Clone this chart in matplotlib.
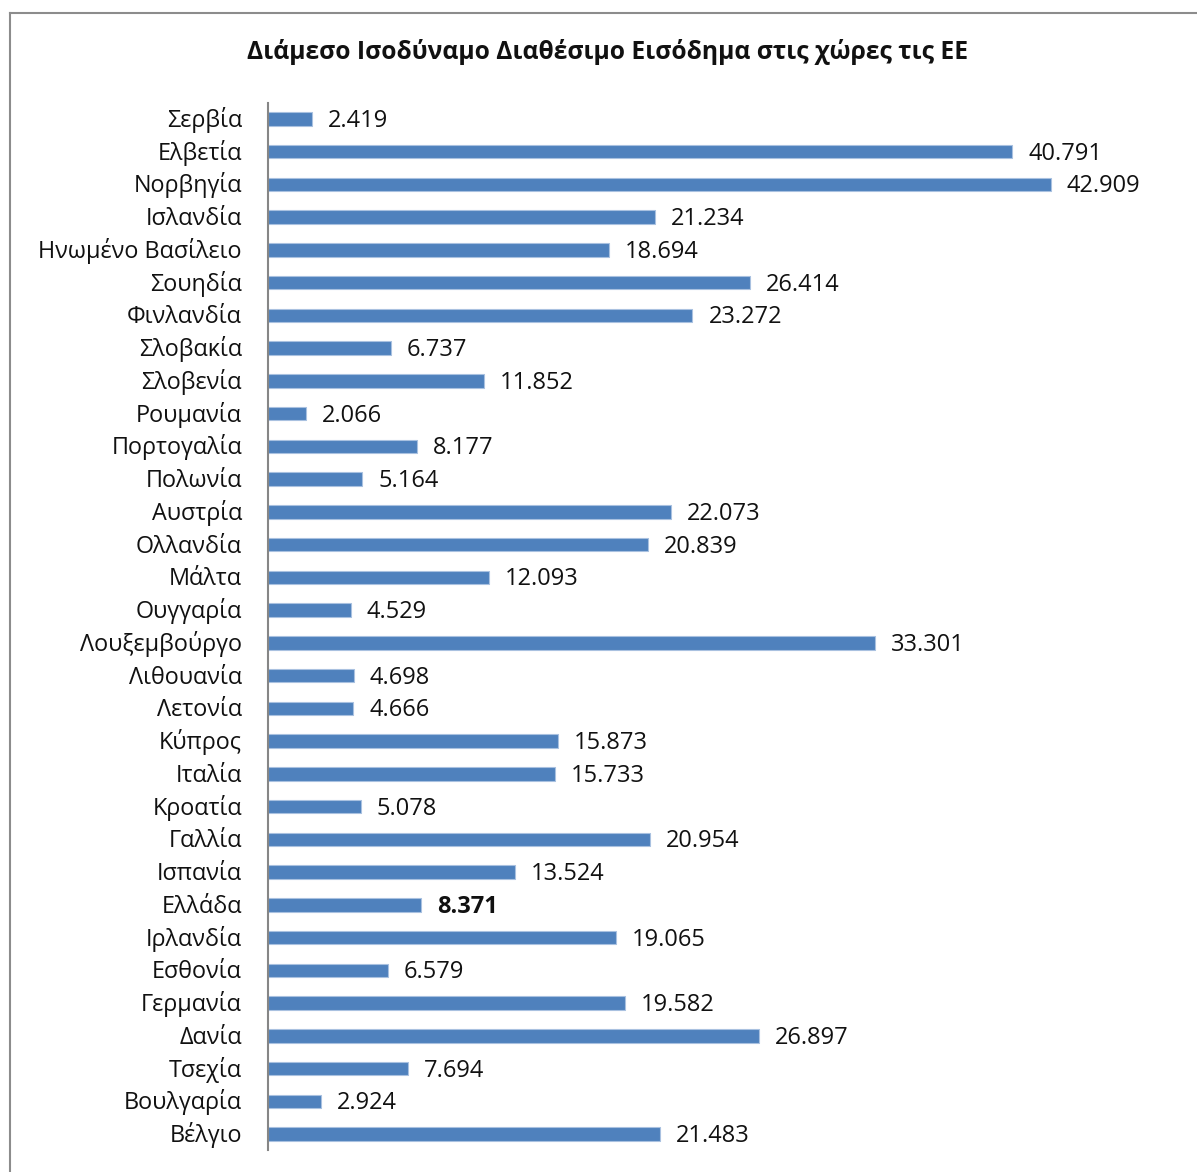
import matplotlib
matplotlib.use("Agg")
from matplotlib import pyplot as plt
from matplotlib.lines import Line2D

countries = [
    "Σερβία", "Ελβετία", "Νορβηγία", "Ισλανδία", "Ηνωμένο Βασίλειο",
    "Σουηδία", "Φινλανδία", "Σλοβακία", "Σλοβενία", "Ρουμανία",
    "Πορτογαλία", "Πολωνία", "Αυστρία", "Ολλανδία", "Μάλτα",
    "Ουγγαρία", "Λουξεμβούργο", "Λιθουανία", "Λετονία", "Κύπρος",
    "Ιταλία", "Κροατία", "Γαλλία", "Ισπανία", "Ελλάδα",
    "Ιρλανδία", "Εσθονία", "Γερμανία", "Δανία", "Τσεχία",
    "Βουλγαρία", "Βέλγιο",
]
income = [
    2419, 40791, 42909, 21234, 18694,
    26414, 23272, 6737, 11852, 2066,
    8177, 5164, 22073, 20839, 12093,
    4529, 33301, 4698, 4666, 15873,
    15733, 5078, 20954, 13524, 8371,
    19065, 6579, 19582, 26897, 7694,
    2924, 21483,
]
highlight = "Ελλάδα"
title = "Διάμεσο Ισοδύναμο Διαθέσιμο Εισόδημα στις χώρες τις ΕΕ"

plt.rcParams['font.family'] = ['Open Sans', 'DejaVu Sans']

W, H = 1197, 1172
fig = plt.figure(figsize=(W / 100, H / 100), dpi=100)

# outer chart frame (cut off at right and bottom in the original)
fig.add_artist(Line2D([10 / W, 1.01], [1 - 13 / H, 1 - 13 / H], color='#8c8c8c', lw=1.5))
fig.add_artist(Line2D([10 / W, 10 / W], [1 - 13 / H, -0.01], color='#8c8c8c', lw=1.5))

left, right, top, bottom = 268, 1180, 102.6, 1150.4
ax = fig.add_axes([left / W, 1 - bottom / H, (right - left) / W, (bottom - top) / H])

y = list(range(len(countries)))
ax.barh(y, income, height=0.41, color='#4f81bd', edgecolor='#a9c1e0', linewidth=0.8)
ax.set_ylim(len(countries) - 0.5, -0.5)
ax.set_xlim(0, 50000)
ax.set_xticks([])
ax.set_yticks([])

for s in ['top', 'right', 'bottom']:
    ax.spines[s].set_visible(False)
ax.spines['left'].set_color('#868686')
ax.spines['left'].set_linewidth(1.5)

for i, (c, v) in enumerate(zip(countries, income)):
    ax.annotate(c, (0, i), xytext=(-26, -8), textcoords='offset pixels',
                va='baseline', ha='right', fontsize=16.8, color='#111111',
                annotation_clip=False)
    label = f"{v:,}".replace(",", ".")
    ax.annotate(label, (v, i), xytext=(16, -8), textcoords='offset pixels',
                va='baseline', ha='left', fontsize=17, color='#111111',
                fontweight='bold' if c == highlight else 'normal',
                annotation_clip=False)

fig.text(608 / W, 1 - 52 / H, title, ha='center', va='center',
         fontsize=17.7, fontweight='bold', color='#111111')

fig.savefig("out.png", dpi=100)
